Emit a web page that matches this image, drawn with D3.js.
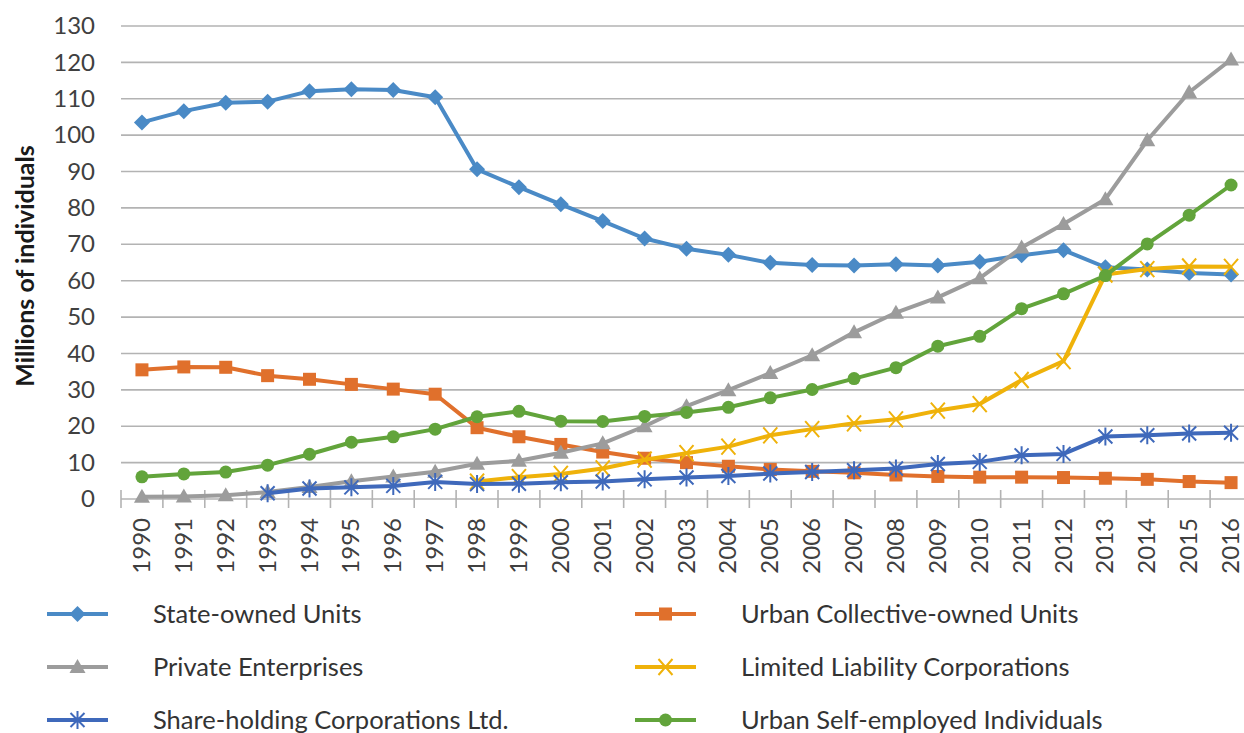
<!DOCTYPE html>
<meta charset="utf-8">
<style>

body {
  margin: 0;
  background: #fff;
  font-family: Lato, "Open Sans", sans-serif;
}

.grid line {
  stroke: #b3b3b3;
  stroke-width: 1.6px;
}

.axis text {
  fill: #404040;
  font-size: 24px;
}

.series path.line {
  fill: none;
  stroke-width: 4px;
  stroke-linejoin: round;
}

.legend text {
  fill: #333;
  font-size: 25.5px;
}

</style>
<body>
<script src="https://d3js.org/d3.v7.min.js"></script>
<script>

var years = d3.range(1990, 2017);

var stateOwned = [103.5, 106.6, 108.9, 109.2, 112.1, 112.6, 112.4, 110.4, 90.6, 85.7, 81.0, 76.4, 71.6,
                  68.8, 67.1, 64.9, 64.3, 64.2, 64.5, 64.2, 65.2, 67.0, 68.4, 63.7, 63.1, 62.1, 61.7];
var urbanCollective = [35.5, 36.3, 36.2, 33.9, 32.9, 31.5, 30.2, 28.8, 19.6, 17.1, 15.0, 12.9, 11.2,
                       10.0, 9.0, 8.1, 7.6, 7.2, 6.6, 6.2, 6.0, 6.0, 5.9, 5.7, 5.4, 4.8, 4.5];
var privateEnt = [0.6, 0.7, 1.0, 1.9, 3.3, 4.9, 6.2, 7.5, 9.7, 10.5, 12.7, 15.3, 20.0,
                  25.5, 29.9, 34.6, 39.5, 45.8, 51.2, 55.4, 60.7, 69.1, 75.6, 82.4, 98.6, 111.8, 120.8];
var limitedLiability = [null, null, null, null, null, null, null, null, 4.8, 6.0, 6.9, 8.4, 10.8,
                        12.6, 14.4, 17.5, 19.2, 20.8, 21.9, 24.3, 26.1, 32.7, 37.9, 61.7, 63.2, 63.9, 63.8];
var shareHolding = [null, null, null, 1.6, 2.9, 3.2, 3.6, 4.7, 4.1, 4.2, 4.6, 4.8, 5.4,
                    5.9, 6.3, 7.0, 7.4, 7.9, 8.4, 9.6, 10.2, 12.0, 12.4, 17.2, 17.5, 18.0, 18.2];
var selfEmployed = [6.1, 6.9, 7.4, 9.3, 12.3, 15.6, 17.1, 19.2, 22.6, 24.1, 21.4, 21.3, 22.7,
                    23.8, 25.2, 27.8, 30.1, 33.1, 36.1, 42.0, 44.7, 52.3, 56.4, 61.4, 70.1, 78.0, 86.3];

var yTicks = d3.range(0, 131, 10);

var series = [
  {name: "State-owned Units", values: stateOwned, color: "#4a8ac6", marker: "diamond"},
  {name: "Urban Collective-owned Units", values: urbanCollective, color: "#e0702c", marker: "square"},
  {name: "Private Enterprises", values: privateEnt, color: "#9c9c9c", marker: "triangle"},
  {name: "Limited Liability Corporations", values: limitedLiability, color: "#efb20a", marker: "x"},
  {name: "Share-holding Corporations Ltd.", values: shareHolding, color: "#3f69bb", marker: "star"},
  {name: "Urban Self-employed Individuals", values: selfEmployed, color: "#62a43b", marker: "circle"}
];

var width = 1244, height = 733;

var x = d3.scalePoint().domain(years).range([121, 1252]).padding(0.5);
var xBand = d3.scaleBand().domain(years).range([121, 1252]);
var y = d3.scaleLinear().domain([0, 130]).range([499, 26]);

var svg = d3.select("body").append("svg")
    .attr("width", width)
    .attr("height", height);

// horizontal gridlines
svg.append("g")
    .attr("class", "grid")
  .selectAll("line")
    .data(yTicks.filter(function(d) { return d > 0; }))
  .enter().append("line")
    .attr("x1", 121)
    .attr("x2", 1252)
    .attr("y1", function(d) { return y(d); })
    .attr("y2", function(d) { return y(d); });

// y axis labels
var yAxis = svg.append("g")
    .attr("class", "axis")
    .attr("transform", "translate(121,0)")
    .call(d3.axisLeft(y).tickValues(yTicks).tickSize(0).tickPadding(26));
yAxis.select(".domain").remove();
yAxis.selectAll("text").attr("font-family", "Lato, sans-serif").attr("font-size", 24);

// x axis line with crossing ticks
var xAxisG = svg.append("g").attr("class", "axis");
xAxisG.append("line")
    .attr("x1", 121).attr("x2", 1252)
    .attr("y1", y(0)).attr("y2", y(0))
    .attr("stroke", "#b3b3b3")
    .attr("stroke-width", 1.6);
xAxisG.selectAll("line.tick")
    .data(years.concat([2017]))
  .enter().append("line")
    .attr("class", "tick")
    .attr("x1", function(d) { return d === 2017 ? 1252 : xBand(d); })
    .attr("x2", function(d) { return d === 2017 ? 1252 : xBand(d); })
    .attr("y1", y(0) - 9)
    .attr("y2", y(0) + 9)
    .attr("stroke", "#b3b3b3")
    .attr("stroke-width", 1.6);
xAxisG.selectAll("text")
    .data(years)
  .enter().append("text")
    .attr("transform", function(d) { return "translate(" + (x(d) + 8) + ",518) rotate(-90)"; })
    .attr("text-anchor", "end")
    .text(function(d) { return d; });

// y axis title
svg.append("text")
    .attr("transform", "translate(34,266) rotate(-90)")
    .attr("text-anchor", "middle")
    .attr("font-size", 25)
    .attr("font-weight", "bold")
    .attr("fill", "#1a1a1a")
    .text("Millions of individuals");

function drawMarker(g, type, color) {
  if (type === "diamond") {
    g.append("path").attr("d", "M0,-8L8,0L0,8L-8,0Z").attr("fill", color);
  } else if (type === "square") {
    g.append("rect").attr("x", -6.5).attr("y", -6.5).attr("width", 13).attr("height", 13).attr("fill", color);
  } else if (type === "triangle") {
    g.append("path").attr("d", "M0,-8L8,6L-8,6Z").attr("fill", color);
  } else if (type === "circle") {
    g.append("circle").attr("r", 6.5).attr("fill", color);
  } else if (type === "x") {
    g.append("path").attr("d", "M-7,-8L7,8M-7,8L7,-8")
        .attr("stroke", color).attr("stroke-width", 2).attr("fill", "none");
  } else if (type === "star") {
    g.append("path").attr("d", "M-7,-7L7,7M-7,7L7,-7M0,-9L0,9")
        .attr("stroke", color).attr("stroke-width", 2).attr("fill", "none");
  }
}

var line = d3.line()
    .defined(function(d) { return d.v != null; })
    .x(function(d) { return x(d.year); })
    .y(function(d) { return y(d.v); });

var seriesG = svg.selectAll("g.series")
    .data(series)
  .enter().append("g")
    .attr("class", "series");

seriesG.each(function(s) {
  var g = d3.select(this);
  var pts = s.values.map(function(v, i) { return {year: years[i], v: v}; });
  g.append("path")
      .attr("class", "line")
      .attr("stroke", s.color)
      .attr("d", line(pts));
  pts.filter(function(d) { return d.v != null; }).forEach(function(d) {
    var m = g.append("g").attr("transform", "translate(" + x(d.year) + "," + y(d.v) + ")");
    drawMarker(m, s.marker, s.color);
  });
});

// legend: two columns, three rows
var legend = svg.append("g").attr("class", "legend");
series.forEach(function(s, k) {
  var col = k % 2, row = Math.floor(k / 2);
  var lx = col === 0 ? 47 : 635;
  var ly = 614 + row * 53;
  var item = legend.append("g").attr("transform", "translate(" + lx + "," + ly + ")");
  item.append("line")
      .attr("x1", 0).attr("x2", 61)
      .attr("stroke", s.color)
      .attr("stroke-width", 4);
  drawMarker(item.append("g").attr("transform", "translate(30.5,0)"), s.marker, s.color);
  item.append("text")
      .attr("x", 106)
      .attr("dy", "0.35em")
      .text(s.name);
});

</script>
